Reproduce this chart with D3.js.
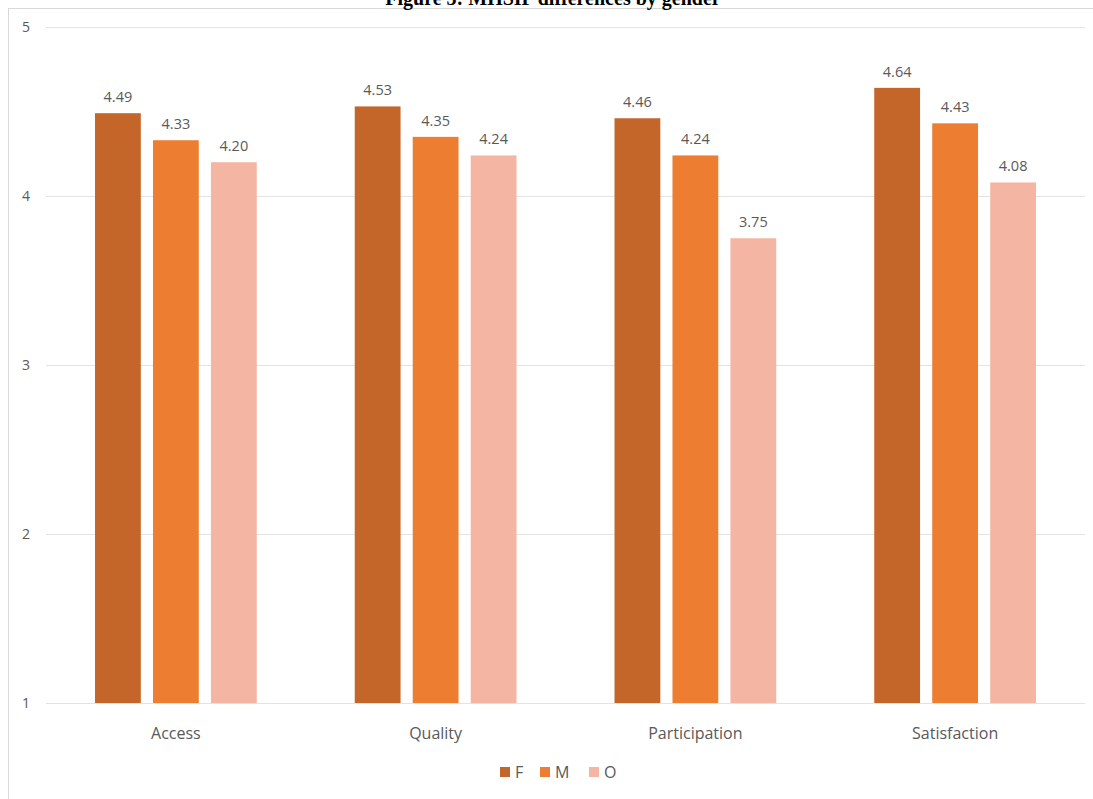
<!DOCTYPE html>
<html>
<head>
<meta charset="utf-8">
<script src="https://cdn.jsdelivr.net/npm/d3@7"></script>
<style>
  body { margin: 0; background: #fff; }
  svg { display: block; }
</style>
</head>
<body>
<svg id="chart"></svg>
<script>
var width = 1093;
var height = 799;

var categories = ["Access", "Quality", "Participation", "Satisfaction"];
var seriesNames = ["F", "M", "O"];
var valuesF = [4.49, 4.53, 4.46, 4.64];
var valuesM = [4.33, 4.35, 4.24, 4.43];
var valuesO = [4.20, 4.24, 3.75, 4.08];
var yTicks = [1, 2, 3, 4, 5];
var colors = ["#c4652a", "#ed7d31", "#f4b6a2"];

var seriesValues = [valuesF, valuesM, valuesO];
var data = categories.map((c, i) => ({
  category: c,
  values: seriesNames.map((s, j) => ({ series: s, value: seriesValues[j][i] }))
}));

var margin = { left: 46, right: 8, top: 27, bottom: 96 };

var svg = d3.select("#chart")
    .attr("width", width)
    .attr("height", height)
    .style("font-family", "'Open Sans', sans-serif");

// chart frame (clipped at top like the source)
svg.append("rect")
    .attr("x", 8.5).attr("y", 8.5)
    .attr("width", width + 20).attr("height", height + 20)
    .attr("fill", "none")
    .attr("stroke", "#d9d9d9");

// title, cut off by the page edge as in the source
svg.append("text")
    .attr("x", 553).attr("y", 5)
    .attr("text-anchor", "middle")
    .style("font-family", "'Liberation Serif', serif")
    .style("font-weight", "bold")
    .style("font-size", "20px")
    .text("Figure 3: MHSIP differences by gender");

var yScale = d3.scaleLinear()
    .domain([1, 5])
    .range([height - margin.bottom, margin.top]);

var x0 = d3.scaleBand()
    .domain(categories)
    .range([margin.left, width - margin.right]);

var x1 = d3.scaleBand()
    .domain(seriesNames)
    .range([49, x0.bandwidth() - 49])
    .paddingInner(0.21);

// gridlines
svg.append("g")
    .selectAll("line")
    .data(yTicks)
    .enter()
    .append("line")
      .attr("x1", margin.left)
      .attr("x2", width - margin.right)
      .attr("y1", d => Math.round(yScale(d)) + 0.5)
      .attr("y2", d => Math.round(yScale(d)) + 0.5)
      .attr("stroke", "#e3e3e3")
      .attr("stroke-width", 1);

// y tick labels
svg.append("g")
    .selectAll("text")
    .data(yTicks)
    .enter()
    .append("text")
      .attr("x", 26)
      .attr("y", d => yScale(d) + 5)
      .attr("text-anchor", "middle")
      .attr("fill", "#595959")
      .style("font-size", "14px")
      .text(d => d);

var groups = svg.append("g")
    .selectAll(".group")
    .data(data)
    .enter()
    .append("g")
      .classed("group", true)
      .attr("transform", d => "translate(" + x0(d.category) + ",0)");

groups.selectAll("rect")
    .data(d => d.values)
    .enter()
    .append("rect")
      .attr("x", d => x1(d.series))
      .attr("y", d => yScale(d.value))
      .attr("width", x1.bandwidth())
      .attr("height", d => yScale(1) - yScale(d.value))
      .attr("fill", (d, i) => colors[i]);

groups.selectAll(".label")
    .data(d => d.values)
    .enter()
    .append("text")
      .classed("label", true)
      .attr("x", d => x1(d.series) + x1.bandwidth() / 2)
      .attr("y", d => yScale(d.value) - 11)
      .attr("text-anchor", "middle")
      .attr("fill", "#595959")
      .style("font-size", "14.5px")
      .text(d => d.value.toFixed(2));

// category labels
svg.append("g")
    .selectAll("text")
    .data(categories)
    .enter()
    .append("text")
      .attr("x", d => x0(d) + x0.bandwidth() / 2)
      .attr("y", yScale(1) + 36)
      .attr("text-anchor", "middle")
      .attr("fill", "#595959")
      .style("font-size", "16px")
      .text(d => d);

// legend
var legendX = [500, 540, 589];
var legend = svg.append("g")
    .selectAll("g")
    .data(seriesNames)
    .enter()
    .append("g")
      .attr("transform", (d, i) => "translate(" + legendX[i] + ",767)");

legend.append("rect")
    .attr("width", 10).attr("height", 10)
    .attr("fill", (d, i) => colors[i]);

legend.append("text")
    .attr("x", 15).attr("y", 11)
    .attr("fill", "#595959")
    .style("font-size", "16px")
    .text(d => d);
</script>
</body>
</html>
